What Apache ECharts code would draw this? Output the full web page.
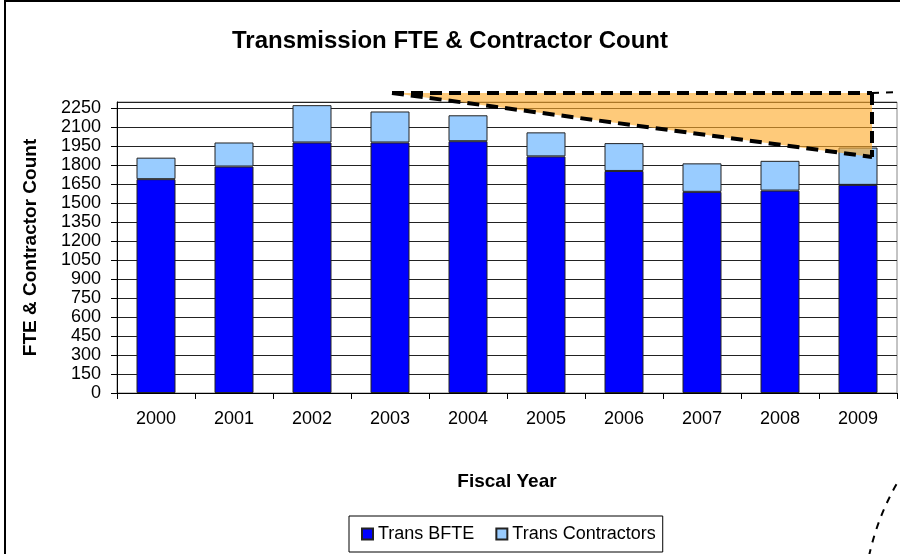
<!DOCTYPE html>
<html>
<head>
<meta charset="utf-8">
<script src="https://cdn.jsdelivr.net/npm/echarts@6/dist/echarts.min.js"></script>
<style>
  html, body { margin: 0; padding: 0; background: #fff; }
  #chart { width: 900px; height: 554px; }
</style>
</head>
<body>
<div id="chart"></div>
<script>
// fiscal years on the x axis
var years = ["2000", "2001", "2002", "2003", "2004", "2005", "2006", "2007", "2008", "2009"];
// stacked counts
var transBFTE = [1690, 1790, 1980, 1980, 1990, 1870, 1755, 1590, 1600, 1645];
var transContractors = [170, 190, 295, 245, 205, 190, 220, 225, 235, 295];
// y axis
var yMin = 0;
var yMax = 2300;
var yStep = 150;

var chart = echarts.init(document.getElementById("chart"));

var dashed = { stroke: "#000", lineWidth: 4, lineDash: [12, 7] };

chart.setOption({
  animation: false,
  backgroundColor: "#fff",
  textStyle: { fontFamily: "Liberation Sans, Arial, sans-serif" },
  title: {
    text: "Transmission FTE & Contractor Count",
    left: "center",
    top: 24,
    textStyle: { fontSize: 24, fontWeight: "bold", color: "#000" }
  },
  legend: {
    data: ["Trans BFTE", "Trans Contractors"],
    bottom: 2,
    left: 349,
    itemWidth: 11,
    itemHeight: 11,
    itemGap: 21,
    icon: "rect",
    borderColor: "#000",
    borderWidth: 1,
    borderRadius: 0,
    padding: [9, 7, 9, 12],
    textStyle: { fontSize: 18, color: "#000" }
  },
  grid: {
    left: 117,
    right: 3,
    top: 102,
    bottom: 161,
    show: true,
    borderColor: "#888",
    borderWidth: 1
  },
  xAxis: {
    type: "category",
    data: years,
    name: "Fiscal Year",
    nameLocation: "middle",
    nameGap: 79,
    nameTextStyle: { fontSize: 19, fontWeight: "bold", color: "#000" },
    axisLine: { lineStyle: { color: "#000" } },
    axisTick: { show: true, length: 6, lineStyle: { color: "#000" } },
    axisLabel: { fontSize: 18, color: "#000", margin: 17 }
  },
  yAxis: {
    type: "value",
    min: yMin,
    max: yMax,
    interval: yStep,
    name: "FTE & Contractor Count",
    nameLocation: "middle",
    nameGap: 77,
    nameRotate: 90,
    nameTextStyle: { fontSize: 19, fontWeight: "bold", color: "#000" },
    axisLine: { show: true, lineStyle: { color: "#000" } },
    axisTick: { show: true, length: 6, lineStyle: { color: "#000" } },
    axisLabel: {
      fontSize: 18,
      color: "#000",
      margin: 16,
      showMaxLabel: false,
      formatter: function (v) { return String(v); }
    },
    splitLine: { lineStyle: { color: "#222", width: 1 } }
  },
  series: [
    {
      name: "Trans BFTE",
      type: "bar",
      stack: "total",
      barCategoryGap: "50%",
      itemStyle: { color: "#0000FF", borderColor: "#222", borderWidth: 1 },
      data: transBFTE
    },
    {
      name: "Trans Contractors",
      type: "bar",
      stack: "total",
      itemStyle: { color: "#99CCFF", borderColor: "#222", borderWidth: 1 },
      data: transContractors
    }
  ],
  graphic: [
    // outer frame of the chart
    { type: "rect", shape: { x: 5, y: 1, width: 920, height: 600 },
      style: { fill: null, stroke: "#000", lineWidth: 2 }, z: 100, silent: true },
    // orange wedge annotation
    { type: "polygon", shape: { points: [[392, 93], [872, 93], [872, 157]] },
      style: { fill: "rgba(253,170,40,0.62)" }, z: 100, silent: true },
    { type: "line", shape: { x1: 392, y1: 93, x2: 872, y2: 93 }, style: dashed, z: 101, silent: true },
    { type: "line", shape: { x1: 872, y1: 93, x2: 872, y2: 157 }, style: dashed, z: 101, silent: true },
    { type: "line", shape: { x1: 392, y1: 93, x2: 872, y2: 157 }, style: dashed, z: 101, silent: true },
    { type: "line", shape: { x1: 872, y1: 93, x2: 905, y2: 92 },
      style: { stroke: "#000", lineWidth: 2, lineDash: [7, 7] }, z: 101, silent: true },
    { type: "bezierCurve", shape: { x1: 869, y1: 556, x2: 899, y2: 480, cpx1: 878, cpy1: 515 },
      style: { fill: null, stroke: "#000", lineWidth: 2, lineDash: [7, 7] }, z: 101, silent: true }
  ]
});
</script>
</body>
</html>
